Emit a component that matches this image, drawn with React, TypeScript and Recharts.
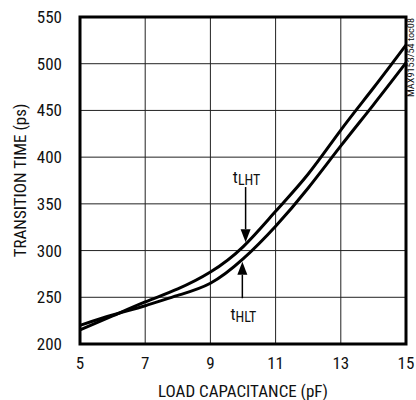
import { LineChart, Line, XAxis, YAxis, CartesianGrid, ReferenceArea, ReferenceLine } from 'recharts';

// load capacitance (pF) on the x axis
const capacitance = [5, 6, 7, 8, 9, 10, 11, 12, 13, 14, 15];
// transition times (ps)
const tLHT = [215, 230, 245, 259, 277, 304, 342, 382, 429, 474, 520];
const tHLT = [220, 231, 241, 252, 265, 291, 326, 367, 412, 456, 501];

const xTicks = [5, 7, 9, 11, 13, 15];
const yTicks = [200, 250, 300, 350, 400, 450, 500, 550];

// annotation arrows, tail -> tip, in data units
const arrowLHT = [{ x: 10.08, y: 368 }, { x: 10.08, y: 309 }];
const arrowHLT = [{ x: 9.98, y: 249 }, { x: 9.98, y: 288 }];

const FONT = '"Liberation Sans Narrow", "Roboto Condensed", "DejaVu Sans Condensed", "Arial Narrow", sans-serif';
const INK = '#111';

const data = capacitance.map((c, i) => ({ c, lht: tLHT[i], hlt: tHLT[i] }));

const arrowShape = (sub: string, textAbove: boolean) => (props: any) => {
  const { x1, y1, x2, y2 } = props;
  const dir = y2 > y1 ? 1 : -1;
  const head = 13;
  const half = 5;
  const base = y2 - dir * head;
  return (
    <g>
      <line x1={x1} y1={y1} x2={x2} y2={base} stroke="#000" strokeWidth={1.5} />
      <polygon points={`${x2 - half},${base} ${x2 + half},${base} ${x2},${y2}`} fill="#000" />
      <text
        x={x1 + 1}
        y={textAbove ? y1 - 4 : y1 + 22}
        textAnchor="middle"
        fontFamily={FONT}
        fill={INK}
      >
        <tspan fontSize={17}>t</tspan>
        <tspan fontSize={14} dy={2}>{sub}</tspan>
      </text>
    </g>
  );
};

const YTitle = (props: any) => {
  const { viewBox } = props;
  const cx = 20;
  const cy = viewBox.y + viewBox.height / 2;
  return (
    <text
      x={cx}
      y={cy}
      transform={`rotate(-90, ${cx}, ${cy})`}
      textAnchor="middle"
      dy="0.36em"
      fontSize={17}
      fontFamily={FONT}
      fill={INK}
    >
      TRANSITION TIME (ps)
    </text>
  );
};

const XTitle = (props: any) => {
  const { viewBox } = props;
  return (
    <text
      x={viewBox.x + viewBox.width / 2}
      y={397}
      textAnchor="middle"
      fontSize={17}
      fontFamily={FONT}
      fill={INK}
    >
      LOAD CAPACITANCE (pF)
    </text>
  );
};

export default function App() {
  return (
    <div style={{ position: 'absolute', left: 0, top: 0, width: 416, height: 400, background: '#fff' }}>
      <LineChart width={416} height={400} data={data} margin={{ top: 17, right: 10, bottom: 0, left: 0 }}>
        <CartesianGrid stroke="#222" strokeWidth={1} />
        <XAxis
          dataKey="c"
          type="number"
          domain={[5, 15]}
          ticks={xTicks}
          height={56}
          axisLine={false}
          tickLine={false}
          tickSize={0}
          tickMargin={13}
          tick={{ fontSize: 17, fill: INK, fontFamily: FONT }}
          label={<XTitle />}
        />
        <YAxis
          type="number"
          domain={[200, 550]}
          ticks={yTicks}
          width={80}
          axisLine={false}
          tickLine={false}
          tickSize={0}
          tickMargin={18}
          tick={{ fontSize: 17, fill: INK, fontFamily: FONT }}
          label={<YTitle />}
        />
        <ReferenceArea x1={5} x2={15} y1={200} y2={550} fill="none" stroke="#000" strokeWidth={3} />
        <Line dataKey="lht" type="natural" stroke="#000" strokeWidth={3} dot={false} isAnimationActive={false} />
        <Line dataKey="hlt" type="natural" stroke="#000" strokeWidth={3} dot={false} isAnimationActive={false} />
        <ReferenceLine segment={arrowLHT} shape={arrowShape('LHT', true)} />
        <ReferenceLine segment={arrowHLT} shape={arrowShape('HLT', false)} />
      </LineChart>
      <svg width={416} height={400} style={{ position: 'absolute', left: 0, top: 0, pointerEvents: 'none' }}>
        <text
          x={0}
          y={0}
          transform="translate(414, 97) rotate(-90)"
          fontSize={9}
          fontFamily={FONT}
          fill={INK}
          textLength={79}
          lengthAdjust="spacingAndGlyphs"
        >
          MAX9153/54 toc08
        </text>
      </svg>
    </div>
  );
}
